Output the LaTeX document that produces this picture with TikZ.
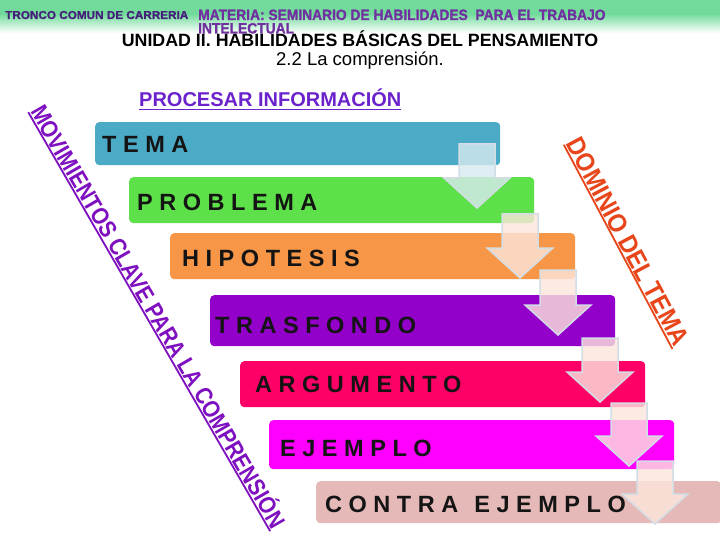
\documentclass[tikz,border=0pt]{standalone}
\usepackage{fontspec}
\setmainfont{Liberation Sans}
\newfontfamily\heavyfont{Liberation Sans Bold}[FakeBold=1.3]
\definecolor{cTema}{HTML}{4BAAC6}
\definecolor{cProb}{HTML}{5EE04A}
\definecolor{cHip}{HTML}{F79646}
\definecolor{cTras}{HTML}{9300CA}
\definecolor{cArg}{HTML}{FF0066}
\definecolor{cEj}{HTML}{FF00FF}
\definecolor{cContra}{HTML}{E4B9B8}
\definecolor{cMov}{HTML}{7E10C0}
\definecolor{cDom}{HTML}{E8461A}
\definecolor{cProc}{HTML}{6B22CC}
\definecolor{cMat}{HTML}{7030A0}
\definecolor{cTron}{HTML}{45207A}
\definecolor{cHead}{HTML}{72DB9C}
\definecolor{cArrB}{HTML}{D3DDE6}
\definecolor{cArrA}{HTML}{D8EAF0}
\definecolor{cArrC}{HTML}{FCE6DC}
\newcommand{\ulbox}[2]{\setbox0\hbox{#2}\rlap{\rule[-#1]{\wd0}{1.8pt}}\box0}
\newcommand{\downarr}[4]{%
  \filldraw[arr, fill=#4] (#1-18,#2) -- (#1+18,#2) -- (#1+18,#3-30) -- (#1+33,#3-30)
    -- (#1,#3) -- (#1-33,#3-30) -- (#1-18,#3-30) -- cycle;}
\tikzset{
  bar/.style={rounded corners=4pt, draw=none, inner sep=0pt, minimum width=405pt, anchor=north west},
  lbl/.style={anchor=base west, inner sep=0pt, text=black!92, font=\bfseries\fontsize{23.5}{24}\selectfont},
  arr/.style={fill opacity=0.8, draw=cArrB, draw opacity=1, line width=1.5pt, line join=miter},
  rot/.style={anchor=base west, inner sep=0pt},
}
\begin{document}
\begin{tikzpicture}[x=1pt,y=-1pt]
\useasboundingbox (0,0) rectangle (720,540);
\fill[white] (0,0) rectangle (720,540);
% header band
\fill[cHead] (0,0) rectangle (720,14);
\shade[top color=cHead, bottom color=white] (0,13.8) rectangle (720,33);
% header texts
\node[rot, text=cTron, font=\heavyfont\fontsize{11.5}{12}\selectfont] (tronco) at (5,19)
  {\scalebox{1.02}[1]{TRONCO COMUN DE CARRERIA}};
\node[rot, text=cMat, font=\heavyfont\fontsize{15}{16}\selectfont] (materia) at (198,20)
  {\scalebox{0.92}[1]{MATERIA: SEMINARIO DE HABILIDADES\ \ PARA EL TRABAJO}};
\node[rot, text=cMat, font=\heavyfont\fontsize{15}{16}\selectfont] (intel) at (198,33.5)
  {\scalebox{0.92}[1]{INTELECTUAL}};
\node[anchor=base, inner sep=0pt, font=\bfseries\fontsize{17.8}{18}\selectfont] (unidad) at (360,46.5)
  {UNIDAD II. HABILIDADES BÁSICAS DEL PENSAMIENTO};
\node[anchor=base, inner sep=0pt, font=\fontsize{18.5}{19}\selectfont] (compr) at (360,66)
  {2.2 La comprensión.};
\node[rot, text=cProc, font=\bfseries\fontsize{20}{20}\selectfont] (proc) at (139,106.5)
  {\ulbox{4pt}{PROCESAR INFORMACIÓN}};
% bars
\node[bar, fill=cTema, minimum height=43pt] (tema) at (95,122) {};
\node[bar, fill=cProb, minimum height=46pt] (prob) at (129,177) {};
\node[bar, fill=cHip, minimum height=46pt] (hip) at (170,233) {};
\node[bar, fill=cTras, minimum height=51pt] (tras) at (210,295) {};
\node[bar, fill=cArg, minimum height=46pt] (argu) at (240,361) {};
\node[bar, fill=cEj, minimum height=49pt] (ejem) at (269,420) {};
\node[bar, fill=cContra, minimum height=42pt] (contra) at (316,481) {};
% labels
\node[lbl] (temat) at (102,153) {T E M A};
\node[lbl] (probt) at (137,211) {P R O B L E M A};
\node[lbl] (hipt) at (182,266) {H I P O T E S I S};
\node[lbl] (trast) at (215,333) {T R A S F O N D O};
\node[lbl] (argt) at (255,392) {A R G U M E N T O};
\node[lbl] (ejt) at (280,456) {E J E M P L O};
\node[lbl] (contrat) at (325,512) {C O N T R A\hspace{16pt}E J E M P L O};
% arrows
\downarr{477}{144}{208}{cArrA}
\downarr{520}{214}{278}{cArrC}
\downarr{558}{270}{335}{cArrC}
\downarr{600}{338}{402}{cArrC}
\downarr{629}{403}{466}{cArrC}
\downarr{655}{461}{524}{cArrC}
% rotated texts
\node[rot, text=cMov, font=\bfseries\fontsize{24}{24}\selectfont, rotate=-60] (mov) at (30,111)
  {\ulbox{3pt}{\scalebox{0.87}[1]{MOVIMIENTOS CLAVE PARA LA COMPRENSIÓN}}};
\node[rot, text=cDom, font=\bfseries\fontsize{26}{26}\selectfont, rotate=-62] (dom) at (565.6,143.6)
  {\ulbox{3pt}{\scalebox{0.91}[1]{DOMINIO DEL TEMA}}};
\end{tikzpicture}
\end{document}
